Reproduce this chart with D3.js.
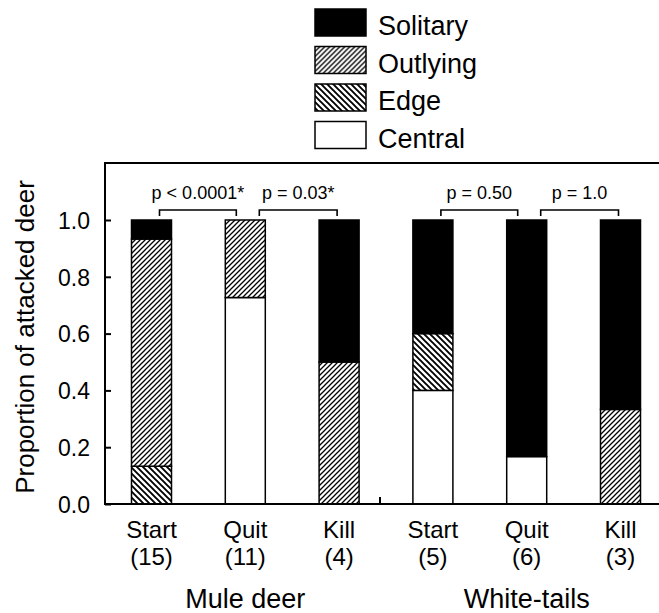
<!DOCTYPE html>
<html>
<head>
<meta charset="utf-8">
<script src="https://cdn.jsdelivr.net/npm/d3@7"></script>
<style>
  html, body { margin: 0; padding: 0; background: #fff; }
  svg { display: block; font-family: "Liberation Sans", Arial, Helvetica, sans-serif; }
</style>
</head>
<body>
<svg id="chart" width="659" height="613"></svg>
<script>
// ---- Data ----
const categories = ["Start", "Quit", "Kill", "Start", "Quit", "Kill"];
const counts = [15, 11, 4, 5, 6, 3];
const groups = ["Mule deer", "White-tails"];
const groupMembers = [[0, 1, 2], [3, 4, 5]];
const seriesNames = ["Central", "Edge", "Outlying", "Solitary"]; // bottom to top
const central  = [0,     0.727, 0,   0.4, 0.167, 0];
const edge     = [0.133, 0,     0,   0.2, 0,     0];
const outlying = [0.8,   0.273, 0.5, 0,   0,     0.333];
const solitary = [0.067, 0,     0.5, 0.4, 0.833, 0.667];
const yTicks = [0, 0.2, 0.4, 0.6, 0.8, 1.0];
const pLabels = ["p < 0.0001*", "p = 0.03*", "p = 0.50", "p = 1.0"];
const pPairs = [[0, 1], [1, 2], [3, 4], [4, 5]];
const legendOrder = ["Solitary", "Outlying", "Edge", "Central"];

// ---- Setup ----
const svg = d3.select("#chart");
const plot = { left: 105, right: 659, top: 163, bottom: 504 };

const keys = categories.map((c, i) => i);
const x = d3.scalePoint().domain(keys).range([151.5, 620.5]);
const barW = 40;
const y = d3.scaleLinear().domain([0, 1]).range([plot.bottom, 220]);

// Patterns
const defs = svg.append("defs");
const pOut = defs.append("pattern").attr("id", "pat-outlying")
  .attr("patternUnits", "userSpaceOnUse").attr("width", 5).attr("height", 5);
pOut.append("rect").attr("width", 5).attr("height", 5).attr("fill", "#fff");
pOut.append("path").attr("d", "M0,5 L5,0 M-1,1 L1,-1 M4,6 L6,4")
  .attr("stroke", "#000").attr("stroke-width", 1.3);

const pEdge = defs.append("pattern").attr("id", "pat-edge")
  .attr("patternUnits", "userSpaceOnUse").attr("width", 6).attr("height", 6);
pEdge.append("rect").attr("width", 6).attr("height", 6).attr("fill", "#fff");
pEdge.append("path").attr("d", "M0,0 L6,6 M-1,5 L1,7 M5,-1 L7,1")
  .attr("stroke", "#000").attr("stroke-width", 1.9);

const fills = {
  Central: "#fff",
  Edge: "url(#pat-edge)",
  Outlying: "url(#pat-outlying)",
  Solitary: "#000"
};

// Stack
const table = keys.map(i => ({
  idx: i,
  Central: central[i], Edge: edge[i], Outlying: outlying[i], Solitary: solitary[i]
}));
const stacked = d3.stack().keys(seriesNames)(table);

// Bars
const layers = svg.append("g").selectAll("g").data(stacked).join("g")
  .attr("fill", d => fills[d.key]);
layers.selectAll("rect")
  .data(d => d.filter(s => s[1] - s[0] > 0))
  .join("rect")
  .attr("x", d => x(d.data.idx) - barW / 2)
  .attr("y", d => y(d[1]))
  .attr("width", barW)
  .attr("height", d => y(d[0]) - y(d[1]))
  .attr("stroke", "#000")
  .attr("stroke-width", 1.5);

// Frame: left axis, top line, bottom axis
svg.append("line").attr("x1", plot.left).attr("x2", plot.left)
  .attr("y1", plot.top).attr("y2", plot.bottom + 1)
  .attr("stroke", "#000").attr("stroke-width", 2);
svg.append("line").attr("x1", plot.left - 1).attr("x2", plot.right)
  .attr("y1", plot.top).attr("y2", plot.top)
  .attr("stroke", "#000").attr("stroke-width", 2);
svg.append("line").attr("x1", plot.left - 1).attr("x2", plot.right)
  .attr("y1", plot.bottom).attr("y2", plot.bottom)
  .attr("stroke", "#000").attr("stroke-width", 2);

// Y axis ticks (inward) and labels
const yAxis = d3.axisRight(y).tickValues(yTicks).tickSize(6)
  .tickFormat(d3.format(".1f"));
const gy = svg.append("g").attr("transform", `translate(${plot.left},0)`).call(yAxis);
gy.select(".domain").remove();
gy.selectAll(".tick line").attr("stroke", "#000").attr("stroke-width", 2);
gy.selectAll(".tick text")
  .attr("x", -15).attr("dy", "0.36em")
  .attr("text-anchor", "end")
  .attr("font-size", 23)
  .attr("font-family", "'Liberation Sans', Arial, Helvetica, sans-serif")
  .attr("fill", "#000");

// Group separator tick
const sepX = (x(2) + x(3)) / 2 - 6;
svg.append("line").attr("x1", sepX).attr("x2", sepX)
  .attr("y1", plot.bottom).attr("y2", plot.bottom - 7)
  .attr("stroke", "#000").attr("stroke-width", 2);

// Category labels
const catG = svg.append("g").attr("font-size", 24).attr("text-anchor", "middle").attr("fill", "#000");
catG.selectAll("text.cat").data(keys).join("text").attr("class", "cat")
  .attr("x", d => x(d)).attr("y", 538).text(d => categories[d]);
catG.selectAll("text.cnt").data(keys).join("text").attr("class", "cnt")
  .attr("x", d => x(d)).attr("y", 565).text(d => `(${counts[d]})`);

// Group labels
svg.append("g").attr("font-size", 27).attr("text-anchor", "middle")
  .selectAll("text").data(groups).join("text")
  .attr("x", (d, i) => (x(groupMembers[i][0]) + x(groupMembers[i][2])) / 2)
  .attr("y", 608)
  .text(d => d);

// Y axis title
svg.append("text")
  .attr("transform", `translate(34,337) rotate(-90)`)
  .attr("text-anchor", "middle")
  .attr("font-size", 26)
  .text("Proportion of attacked deer");

// Significance brackets
const bracketOffsets = [[8, -9], [14, -2], [8, -9], [14, -2]];
const bTop = 210, bLeg = 6;
pPairs.forEach((pair, i) => {
  const x1 = x(pair[0]) + bracketOffsets[i][0];
  const x2 = x(pair[1]) + bracketOffsets[i][1];
  svg.append("path")
    .attr("d", `M${x1},${bTop + bLeg} V${bTop} H${x2} V${bTop + bLeg}`)
    .attr("fill", "none").attr("stroke", "#000").attr("stroke-width", 1.6);
  svg.append("text")
    .attr("x", (x1 + x2) / 2).attr("y", 199)
    .attr("text-anchor", "middle").attr("font-size", 18)
    .text(pLabels[i]);
});

// Legend
const legend = svg.append("g").attr("transform", "translate(315,9)");
const lg = legend.selectAll("g").data(legendOrder).join("g")
  .attr("transform", (d, i) => `translate(0,${i * 37.5})`);
lg.append("rect").attr("width", 51).attr("height", 27)
  .attr("fill", d => fills[d]).attr("stroke", "#000").attr("stroke-width", 1.5);
lg.append("text").attr("x", 63).attr("y", 26).attr("font-size", 27).text(d => d);
</script>
</body>
</html>
